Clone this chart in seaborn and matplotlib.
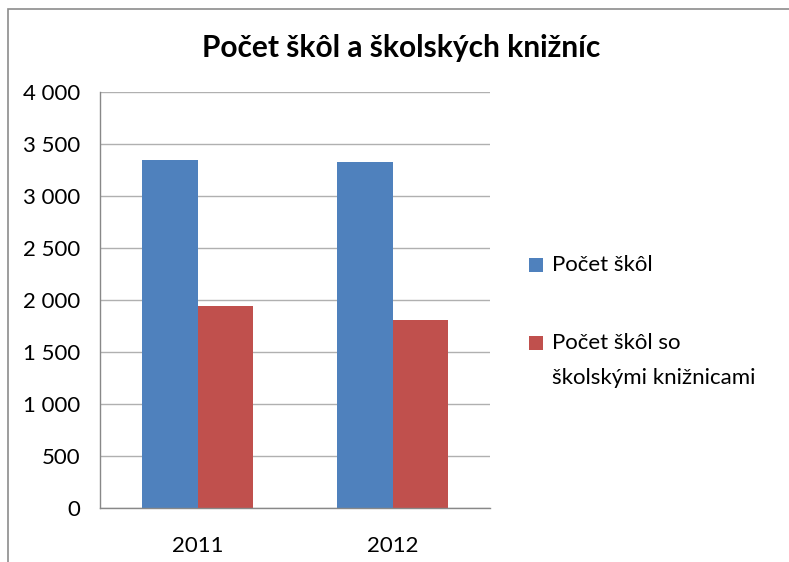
import matplotlib
matplotlib.use("Agg")
import matplotlib.pyplot as plt
import seaborn as sns
import pandas as pd
from matplotlib.patches import Rectangle

years = ["2011", "2012"]
series_names = ["Počet škôl", "Počet škôl so\nškolskými knižnicami"]
pocet_skol = [3346, 3327]
pocet_s_kniznicami = [1942, 1808]
colors = ["#4F81BD", "#C0504D"]
yticks = [0, 500, 1000, 1500, 2000, 2500, 3000, 3500, 4000]
ytick_labels = ["0", "500", "1 000", "1 500", "2 000", "2 500", "3 000", "3 500", "4 000"]
title = "Počet škôl a školských knižníc"

df = pd.DataFrame({
    "rok": years * 2,
    "séria": [series_names[0]] * 2 + [series_names[1]] * 2,
    "hodnota": pocet_skol + pocet_s_kniznicami,
})

sns.set_style("white")
plt.rcParams["font.family"] = ["Lato", "DejaVu Sans"]
plt.rcParams["text.color"] = "black"
plt.rcParams["xtick.color"] = "black"
plt.rcParams["ytick.color"] = "black"

fig = plt.figure(figsize=(7.89, 5.62), dpi=100)
ax = fig.add_axes([100 / 789, 1 - 508 / 562, 390 / 789, 416 / 562])

sns.barplot(data=df, x="rok", y="hodnota", hue="séria", palette=colors,
            width=0.57, gap=0, saturation=1, ax=ax, legend=False, errorbar=None,
            linewidth=0)

ax.set_xlim(-0.5, 1.5)
ax.set_ylim(0, 4000)
ax.set_yticks(yticks)
ax.set_yticklabels(ytick_labels, fontsize=16, color="black")
ax.set_xticks([0, 1])
ax.set_xticklabels(years, fontsize=16, color="black")
ax.set_xticks([-0.5, 0.5, 1.5], minor=True)
ax.tick_params(axis="x", which="major", length=0, pad=20)
ax.tick_params(axis="x", which="minor", length=5, color="#888888", direction="out")
ax.tick_params(axis="y", length=5, color="#888888", direction="out", pad=9)
ax.set_xlabel("")
ax.set_ylabel("")
ax.grid(axis="y", color="#B0B0B0", linewidth=1)
ax.set_axisbelow(True)
for s in ["top", "right"]:
    ax.spines[s].set_visible(False)
ax.spines["left"].set_color("#888888")
ax.spines["bottom"].set_color("#888888")
ax.spines["left"].set_linewidth(1)
ax.spines["bottom"].set_linewidth(1)

fig.text(401 / 789, 1 - 48 / 562, title, ha="center", va="center",
         fontsize=21.5, fontweight="bold", color="black")

# legend (drawn manually to match the wide line spacing)
legend_y = [265, 343]
for c, name, yy in zip(colors, series_names, legend_y):
    fig.patches.append(Rectangle((529 / 789, 1 - (yy + 7) / 562), 14 / 789, 14 / 562,
                                 transform=fig.transFigure, facecolor=c,
                                 edgecolor="none"))
    lines = name.split("\n")
    for i, ln in enumerate(lines):
        fig.text(552 / 789, 1 - (yy + 35 * i) / 562, ln, ha="left", va="center",
                 fontsize=16, color="black")

fig.patches.append(Rectangle((8 / 789, -0.1), 1.2, 1 - 9 / 562 + 0.1,
                             transform=fig.transFigure, fill=False,
                             edgecolor="#8C8C8C", linewidth=1.2))

fig.savefig("out.png", dpi=100)
